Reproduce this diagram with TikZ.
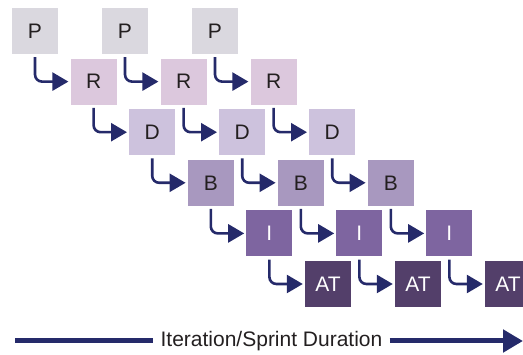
\documentclass[tikz,border=0pt]{standalone}
\usepackage{fontspec}
\setmainfont{Liberation Sans}
\usetikzlibrary{arrows.meta}

\definecolor{boxP}{HTML}{DAD8DF}
\definecolor{boxR}{HTML}{DCC8DD}
\definecolor{boxD}{HTML}{CDC2DD}
\definecolor{boxB}{HTML}{A898BF}
\definecolor{boxI}{HTML}{7E65A0}
\definecolor{boxAT}{HTML}{533F6A}
\definecolor{flowblue}{HTML}{252A6A}
\definecolor{inkdark}{HTML}{231F20}

\tikzset{
  phase/.style={minimum size=46pt, inner sep=0pt, font=\fontsize{21}{25}\selectfont},
  flow/.style={line width=2.6pt, draw=flowblue, rounded corners=7pt,
    -{Triangle[length=16pt, width=18pt]}},
  timeline/.style={line width=5pt, draw=flowblue},
}

\begin{document}
\begin{tikzpicture}[x=1pt, y=-1pt]
    \useasboundingbox (0,0) rectangle (523,355);

    % phases, one row each, three iterations
    \foreach \lbl/\col/\ink [count=\r from 0] in {P/boxP/inkdark, R/boxR/inkdark, D/boxD/inkdark,
        B/boxB/inkdark, I/boxI/white, AT/boxAT/white}{
      \foreach \c in {0,1,2}
        \node[phase, fill=\col, text=\ink] (b\r\c) at ({35+90*\c+58.6*\r}, {31+50.6*\r}) {\lbl};
    }

    % hand-over arrows
    \foreach \r [evaluate=\r as \n using int(\r+1)] in {0,...,4}
      \foreach \c in {0,1,2}
        \draw[flow] ([yshift=-3pt]b\r\c.south) |- ([xshift=-2pt]b\n\c.west);

    % duration arrow
    \coordinate (tl) at (15,341);
    \coordinate (tr) at (523,341);
    \node[anchor=base, inner xsep=7pt, font=\fontsize{21}{25}\selectfont, text=inkdark] (dur) at (271.5,347) {Iteration/Sprint Duration};
    \draw[timeline] (tl) -- (tl -| dur.west);
    \draw[timeline, -{Triangle[length=20pt, width=22pt]}] (tl -| dur.east) -- (tr);
\end{tikzpicture}
\end{document}
